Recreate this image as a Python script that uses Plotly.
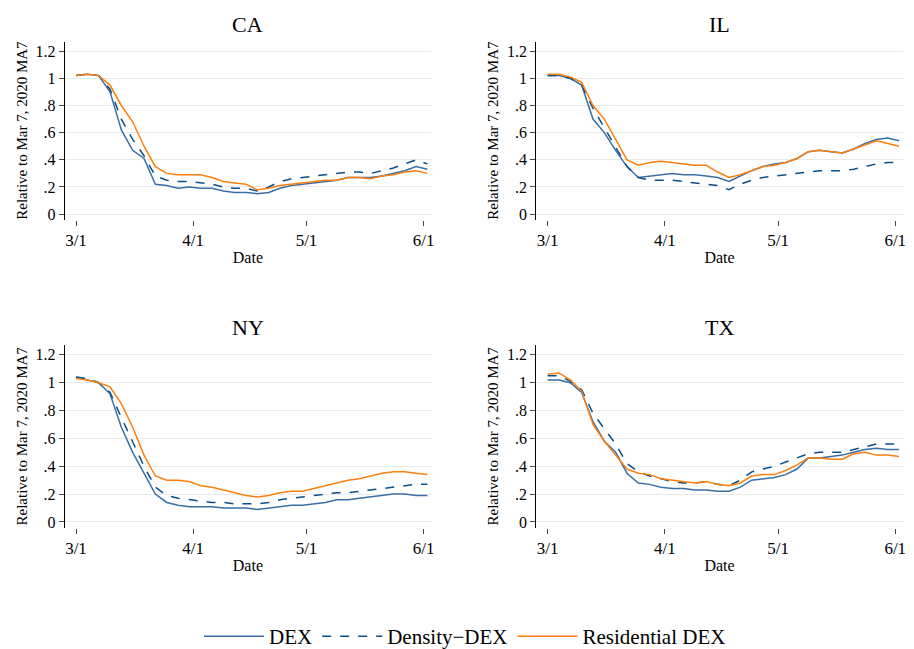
import plotly.graph_objects as go
from datetime import date, timedelta

dates = [(date(2020,3,1)+timedelta(days=3*i)).isoformat() for i in range(32)]
states = ["CA", "IL", "NY", "TX"]
dex = {
 "CA": [1.02,1.03,1.02,0.9,0.62,0.47,0.41,0.22,0.21,0.19,0.20,0.19,0.19,0.17,0.16,0.16,0.15,0.16,0.19,0.21,0.22,0.23,0.24,0.25,0.27,0.27,0.27,0.28,0.30,0.32,0.35,0.33],
 "IL": [1.02,1.02,1.0,0.95,0.7,0.6,0.47,0.35,0.27,0.28,0.29,0.3,0.29,0.29,0.28,0.27,0.24,0.28,0.32,0.35,0.37,0.38,0.41,0.46,0.47,0.46,0.45,0.48,0.52,0.55,0.56,0.54],
 "NY": [1.04,1.02,1.0,0.92,0.68,0.5,0.35,0.2,0.14,0.12,0.11,0.11,0.11,0.1,0.1,0.1,0.09,0.1,0.11,0.12,0.12,0.13,0.14,0.16,0.16,0.17,0.18,0.19,0.2,0.2,0.19,0.19],
 "TX": [1.02,1.02,1.0,0.93,0.72,0.58,0.5,0.35,0.28,0.27,0.25,0.24,0.24,0.23,0.23,0.22,0.22,0.25,0.3,0.31,0.32,0.34,0.38,0.46,0.46,0.47,0.48,0.5,0.52,0.53,0.52,0.52],
}
density = {
 "CA": [1.02,1.03,1.02,0.92,0.7,0.55,0.43,0.28,0.25,0.24,0.24,0.23,0.22,0.2,0.19,0.19,0.17,0.2,0.24,0.26,0.27,0.28,0.29,0.3,0.31,0.31,0.3,0.32,0.34,0.37,0.4,0.37],
 "IL": [1.02,1.02,1.0,0.95,0.78,0.64,0.5,0.35,0.27,0.25,0.25,0.25,0.24,0.23,0.22,0.21,0.18,0.22,0.25,0.27,0.28,0.29,0.3,0.31,0.32,0.32,0.32,0.33,0.35,0.37,0.38,0.38],
 "NY": [1.04,1.03,1.0,0.93,0.75,0.58,0.4,0.25,0.19,0.17,0.16,0.15,0.14,0.14,0.13,0.13,0.13,0.14,0.16,0.17,0.18,0.19,0.2,0.21,0.21,0.22,0.23,0.24,0.25,0.26,0.27,0.27],
 "TX": [1.05,1.05,1.01,0.95,0.78,0.67,0.56,0.42,0.36,0.33,0.31,0.29,0.28,0.28,0.29,0.27,0.26,0.3,0.36,0.38,0.4,0.43,0.46,0.49,0.5,0.5,0.5,0.52,0.54,0.56,0.56,0.56],
}
residential = {
 "CA": [1.02,1.03,1.02,0.95,0.8,0.68,0.5,0.35,0.3,0.29,0.29,0.29,0.27,0.24,0.23,0.22,0.18,0.19,0.21,0.22,0.23,0.24,0.25,0.25,0.27,0.27,0.26,0.28,0.29,0.31,0.32,0.3],
 "IL": [1.03,1.03,1.01,0.97,0.8,0.7,0.55,0.4,0.36,0.38,0.39,0.38,0.37,0.36,0.36,0.31,0.27,0.29,0.32,0.35,0.36,0.38,0.41,0.46,0.47,0.46,0.45,0.48,0.51,0.54,0.52,0.5],
 "NY": [1.03,1.02,1.0,0.97,0.85,0.68,0.48,0.33,0.3,0.3,0.29,0.26,0.25,0.23,0.21,0.19,0.18,0.19,0.21,0.22,0.22,0.24,0.26,0.28,0.3,0.31,0.33,0.35,0.36,0.36,0.35,0.34],
 "TX": [1.06,1.07,1.02,0.94,0.7,0.58,0.48,0.38,0.35,0.34,0.31,0.3,0.29,0.28,0.29,0.27,0.26,0.28,0.33,0.34,0.34,0.37,0.41,0.46,0.46,0.45,0.45,0.49,0.5,0.48,0.48,0.47],
}
ytick_vals = [0,0.2,0.4,0.6,0.8,1.0,1.2]
ytick_text = ["0",".2",".4",".6",".8","1","1.2"]
xtick_vals = ["2020-03-01","2020-04-01","2020-05-01","2020-06-01"]
xtick_text = ["3/1","4/1","5/1","6/1"]

C_DEX, C_DEN, C_RES = "#3a6ea5", "#0b4f8a", "#ff7f0e"
F = "Liberation Serif"
xd = [[0.062,0.463],[0.578,0.979]]
yd = [[0.673,0.948],[0.197,0.479]]
fig = go.Figure()
for i, s in enumerate(states):
    r, c = divmod(i, 2)
    n = "" if i == 0 else str(i+1)
    kw = dict(xaxis="x"+n, yaxis="y"+n)
    fig.add_trace(go.Scatter(x=dates, y=dex[s], name="DEX", line=dict(color=C_DEX, width=1.5), showlegend=i==0, **kw))
    fig.add_trace(go.Scatter(x=dates, y=density[s], name="Density\u2212DEX", line=dict(color=C_DEN, width=1.5, dash="dash"), showlegend=i==0, **kw))
    fig.add_trace(go.Scatter(x=dates, y=residential[s], name="Residential DEX", line=dict(color=C_RES, width=1.5), showlegend=i==0, **kw))
    fig.layout["xaxis"+n] = dict(domain=xd[c], anchor="y"+n, range=["2020-02-27","2020-06-03"],
        tickvals=xtick_vals, ticktext=xtick_text, ticks="outside", ticklen=5, showgrid=False,
        showline=False, zeroline=False, tickfont=dict(size=17), automargin=False,
        title=dict(text="Date", font=dict(size=16), standoff=2))
    fig.layout["yaxis"+n] = dict(domain=yd[r], anchor="x"+n, range=[-0.04,1.27],
        tickvals=ytick_vals, ticktext=ytick_text, ticks="outside", ticklen=5,
        showgrid=True, gridcolor="#eaeaea", gridwidth=1, automargin=False,
        showline=True, linecolor="black", linewidth=1, zeroline=False, tickfont=dict(size=16),
        title=dict(text="Relative to Mar 7, 2020 MA7", font=dict(size=15), standoff=4))
    fig.add_annotation(text=s, xref="paper", yref="paper", x=(xd[c][0]+xd[c][1])/2, y=yd[r][1]+0.004,
                       xanchor="center", yanchor="bottom", showarrow=False, font=dict(size=22, family=F))
fig.update_layout(width=914, height=649, margin=dict(l=0,r=0,t=0,b=0),
    paper_bgcolor="white", plot_bgcolor="white",
    font=dict(family=F, size=16, color="black"),
    legend=dict(orientation="h", x=0.5, xanchor="center", y=0.028, yanchor="middle",
                font=dict(size=21), itemwidth=60, tracegroupgap=0))
fig.write_html("out.html")
